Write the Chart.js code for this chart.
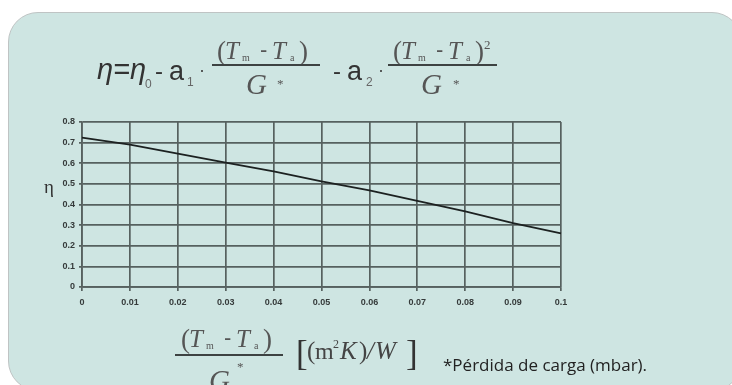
<!DOCTYPE html>
<html><head><meta charset="utf-8">
<script src="https://cdn.jsdelivr.net/npm/chart.js@4"></script>
<style>
html,body{margin:0;padding:0;background:#fff;width:732px;height:385px;overflow:hidden;position:relative;}
#panel{position:absolute;left:8px;top:12px;width:734px;height:379px;background:#cee5e2;border:1px solid #bfc4c4;border-radius:30px;box-sizing:border-box;}
#c{position:absolute;left:0;top:0;}
#ov{position:absolute;left:0;top:0;}
</style></head><body>
<div id="panel"></div>
<canvas id="c" width="732" height="385"></canvas>
<svg id="ov" width="732" height="385" xmlns="http://www.w3.org/2000/svg"></svg>
<script>
// ---- data ----
const xLabels = ['0','0.01','0.02','0.03','0.04','0.05','0.06','0.07','0.08','0.09','0.1'];
const etaValues = [0.724,0.690,0.647,0.603,0.561,0.512,0.469,0.417,0.367,0.310,0.260];
const yTickLabels = ['0','0.1','0.2','0.3','0.4','0.5','0.6','0.7','0.8'];

const gridColor = '#56615f';

new Chart(document.getElementById('c'), {
  type: 'line',
  data: {
    labels: xLabels,
    datasets: [{
      data: etaValues,
      borderColor: '#1c2121',
      borderWidth: 1.8,
      pointRadius: 0,
      tension: 0,
      fill: false
    }]
  },
  options: {
    responsive: false,
    animation: false,
    events: [],
    layout: { padding: { left: 0, top: 122, right: 171, bottom: 0 } },
    plugins: { legend: { display: false }, tooltip: { enabled: false } },
    scales: {
      x: {
        type: 'category',
        offset: false,
        afterFit(s) { s.height = 98; },
        grid: { color: gridColor, lineWidth: 1.7, tickLength: 4, drawTicks: true },
        border: { color: gridColor, width: 1.7 },
        ticks: { autoSkip: false, maxRotation: 0, padding: 6, color: '#353a3a',
                 font: { family: 'Liberation Sans', size: 9, weight: 'bold' } }
      },
      y: {
        type: 'linear',
        min: 0, max: 0.8,
        afterFit(s) { s.width = 82; },
        grid: { color: gridColor, lineWidth: 1.7, tickLength: 3 },
        border: { color: gridColor, width: 1.7 },
        ticks: { stepSize: 0.1, padding: 4, color: '#353a3a',
                 font: { family: 'Liberation Sans', size: 9, weight: 'bold' },
                 callback: (v, i) => yTickLabels[i] }
      }
    }
  }
});

// ---- text overlay (formulas and notes) ----
const svg = document.getElementById('ov');
const NS = 'http://www.w3.org/2000/svg';
function T(x, y, str, size, opts = {}) {
  const t = document.createElementNS(NS, 'text');
  t.setAttribute('x', x); t.setAttribute('y', y);
  t.setAttribute('font-size', size);
  t.setAttribute('font-family', opts.family || 'Liberation Sans');
  if (opts.italic) t.setAttribute('font-style', 'italic');
  t.setAttribute('fill', opts.color || '#333');
  if (opts.anchor) t.setAttribute('text-anchor', opts.anchor);
  t.textContent = str;
  svg.appendChild(t);
}
function L(x1, x2, y, w, color) {
  const l = document.createElementNS(NS, 'line');
  l.setAttribute('x1', x1); l.setAttribute('x2', x2);
  l.setAttribute('y1', y); l.setAttribute('y2', y);
  l.setAttribute('stroke', color || '#444'); l.setAttribute('stroke-width', w);
  svg.appendChild(l);
}
const SERIF = 'Liberation Serif';
const SC = '#555';
// fraction numerator (Tm - Ta) with left x offset
function frac(x0, yb, sq) {
  T(x0 + 5, yb + 1, '(', 27, { family: SERIF, color: SC });
  T(x0 + 13, yb, 'T', 25, { family: SERIF, italic: true, color: SC });
  T(x0 + 30, yb + 2, 'm', 10, { family: SERIF, color: SC });
  T(x0 + 48, yb - 2, '-', 22, { family: 'Liberation Sans', color: SC });
  T(x0 + 60, yb, 'T', 25, { family: SERIF, italic: true, color: SC });
  T(x0 + 78, yb + 2, 'a', 10, { family: SERIF, color: SC });
  T(x0 + 87, yb + 1, ')', 27, { family: SERIF, color: SC });
  if (sq) T(x0 + 96, yb - 10, '2', 13, { family: SERIF, color: SC });
}

// top formula
T(97, 79, 'η=η', 29, { italic: true, color: '#333' });
T(145, 88, '0', 12, { color: '#666' });
T(155, 79, '-', 24, { color: '#333' });
T(169, 80, 'a', 27, { color: '#333' });
T(187, 86, '1', 12, { color: '#666' });
T(199, 76, '·', 18, { color: '#444' });
frac(212, 59, false);
L(212, 320, 65, 2.2, '#3d4242');
T(246, 94, 'G', 29, { family: SERIF, italic: true, color: SC });
T(277, 88, '*', 13, { family: SERIF, color: SC });

T(333, 79, '-', 24, { color: '#333' });
T(347, 80, 'a', 27, { color: '#333' });
T(366, 86, '2', 12, { color: '#666' });
T(378, 76, '·', 18, { color: '#444' });
frac(388, 59, true);
L(388, 497, 65, 2.2, '#3d4242');
T(421, 94, 'G', 29, { family: SERIF, italic: true, color: SC });
T(453, 88, '*', 13, { family: SERIF, color: SC });

// y-axis title
T(44, 193, 'η', 19, { family: SERIF, color: '#333' });

// bottom formula
frac(176, 347, false);
L(175, 283, 355, 2.2, '#3d4242');
T(209, 390, 'G', 29, { family: SERIF, italic: true, color: SC });
T(237, 371, '*', 13, { family: SERIF, color: SC });
T(296, 365, '[', 35, { family: SERIF, color: '#333' });
T(307, 359, '(', 25, { family: SERIF, color: '#444' });
T(315, 359, 'm', 24, { family: SERIF, color: '#444' });
T(333, 348, '2', 12, { family: SERIF, color: '#444' });
T(340, 359, 'K', 25, { family: SERIF, italic: true, color: '#444' });
T(359, 359, ')', 25, { family: SERIF, color: '#444' });
T(367, 359, '/', 25, { family: SERIF, italic: true, color: '#444' });
T(375, 359, 'W', 25, { family: SERIF, italic: true, color: '#444' });
T(406, 365, ']', 35, { family: SERIF, color: '#333' });

// note
T(443, 371, '*Pérdida de carga (mbar).', 17, { family: 'Open Sans', color: '#222' });
</script>
</body></html>
